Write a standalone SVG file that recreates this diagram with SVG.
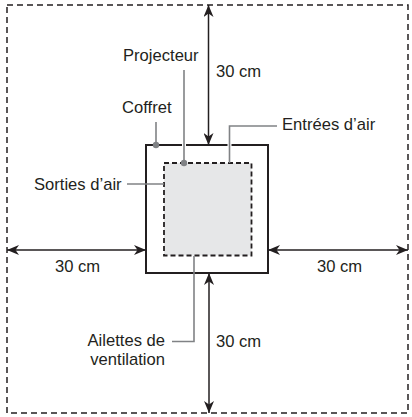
<svg xmlns="http://www.w3.org/2000/svg" width="412" height="417" viewBox="0 0 412 417">
<style>
text{font-family:"Liberation Sans",Arial,sans-serif;font-size:16.6px;fill:#231f20}
.dim{stroke:#231f20;stroke-width:1.5;fill:none}
.lead{stroke:#808285;stroke-width:1.6;fill:none}
.halo{stroke:#fff;stroke-width:4;fill:none}
</style>
<defs>
<marker id="ah" viewBox="0 0 12 10" refX="12" refY="5" markerWidth="12" markerHeight="10" markerUnits="userSpaceOnUse" orient="auto-start-reverse">
<path d="M0,0 L12,5 L0,10 L3.5,5 z" fill="#231f20"/>
</marker>
</defs>
<rect width="412" height="417" fill="#fff"/>
<g id="zone">
<rect x="7" y="5" width="401" height="408" fill="none" stroke="#231f20" stroke-width="1.5" stroke-dasharray="6 4"/>
</g>
<g id="coffret">
<rect x="146" y="145" width="122" height="128" fill="#fff" stroke="#231f20" stroke-width="2"/>
</g>
<g id="projecteur">
<rect x="164" y="163" width="87.5" height="92.5" fill="#e6e7e8" stroke="#231f20" stroke-width="1.8" stroke-dasharray="5 3"/>
</g>
<g id="connectors">
<line class="dim" x1="208.5" y1="5" x2="208.5" y2="145" marker-start="url(#ah)" marker-end="url(#ah)"/>
<line class="dim" x1="209" y1="273" x2="209" y2="413" marker-start="url(#ah)" marker-end="url(#ah)"/>
<line class="dim" x1="7" y1="250" x2="146" y2="250" marker-start="url(#ah)" marker-end="url(#ah)"/>
<line class="dim" x1="268" y1="250" x2="408" y2="250" marker-start="url(#ah)" marker-end="url(#ah)"/>
<path class="halo" d="M184,140 V158 M229.5,140 V150"/>
<polyline class="lead" points="156,122 156,145"/>
<circle cx="156" cy="145" r="3.2" fill="#808285"/>
<polyline class="lead" points="184,70 184,163"/>
<circle cx="184" cy="163" r="3.2" fill="#808285"/>
<polyline class="lead" points="277,126 229.5,126 229.5,163"/>
<polyline class="lead" points="127,184 164,184"/>
<polyline class="lead" points="172,341.5 194,341.5 194,256"/>
</g>
<g id="labels">
<text x="123" y="61">Projecteur</text>
<text x="216" y="77">30 cm</text>
<text x="122" y="113">Coffret</text>
<text x="282" y="130">Entrées d’air</text>
<text x="34" y="190">Sorties d’air</text>
<text x="55" y="272">30 cm</text>
<text x="317" y="272">30 cm</text>
<text x="216" y="347">30 cm</text>
<text x="165" y="346" text-anchor="end">Ailettes de</text>
<text x="165" y="365" text-anchor="end">ventilation</text>
</g>
</svg>
